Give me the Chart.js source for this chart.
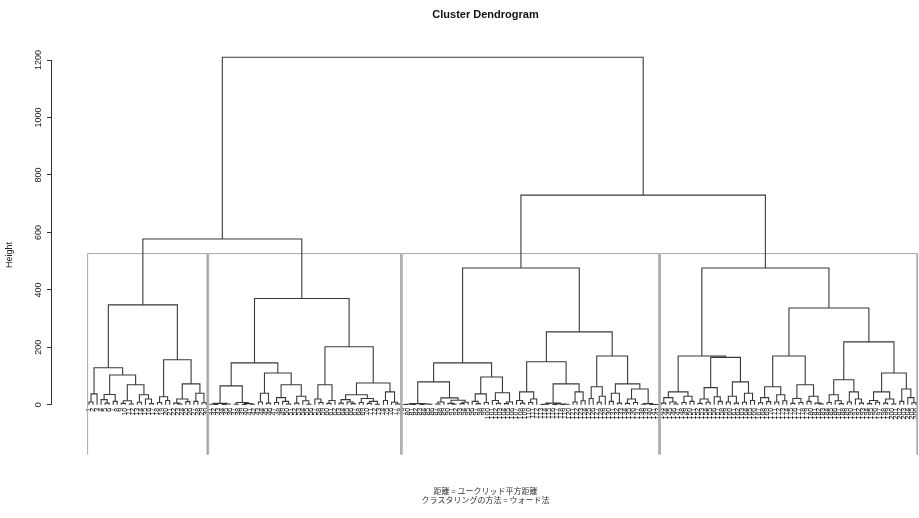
<!DOCTYPE html>
<html>
<head>
<meta charset="utf-8">
<script src="https://cdn.jsdelivr.net/npm/chart.js@4.4.1/dist/chart.umd.min.js"></script>
<style>
  html, body { margin: 0; padding: 0; background: #fff; }
  #wrap { width: 919px; height: 518px; }
</style>
</head>
<body>
<div id="wrap"><canvas id="dendro"></canvas></div>
<script>
// each node is [merge height, left, right]; 0 is a leaf
const cluster1 = [348,
  [129,
    [38, [10,0,0], 0],
    [104,
      [36, [18,0,[6,0,0]], [12,0,0]],
      [70, [14,[5,0,0],[3,0,0]], [35,[9,0,0],[20,0,[4,0,0]]]]
    ]
  ],
  [157,
    [28, [8,0,0], [15,0,0]],
    [73,
      [20, [6,0,[3,0,0]], [11,0,0]],
      [40, [12,0,0], [7,0,0]]
    ]
  ]
];

const cluster2 = [370,
  [146,
    [66,
      [5, [2,0,[1,0,0]], [3,[1,0,0],0]],
      [8, [2,0,0], [4,[1,0,0],[2,0,0]]]
    ],
    [111,
      [40, [10,0,0], [6,0,0]],
      [70, [25,[8,0,0],[12,0,[3,0,0]]], [30,[6,0,0],[14,0,[2,0,0]]]]
    ]
  ],
  [202,
    [70, [20,0,[8,0,0]], [15,[5,0,0],0]],
    [76,
      [35, [18,[6,0,0],[10,0,[4,0,0]]], [22,[8,0,0],[12,[5,0,0],[2,0,0]]]],
      [45, [15,0,0], [9,0,[3,0,0]]]
    ]
  ]
];

const cluster3 = [476,
  [146,
    [80,
      [4, [2,[1,0,0],[1,0,0]], [3,[1,0,0],[2,0,0]]],
      [24, [10,[3,0,0],0], [16,[5,0,[2,0,0]],[9,[4,0,0],0]]]
    ],
    [97,
      [38, [12,0,[4,0,0]], [8,0,0]],
      [42, [15,0,[5,0,0]], [10,[4,0,0],0]]
    ]
  ],
  [254,
    [150,
      [45, [15,0,[6,0,0]], [20,[8,0,0],0]],
      [73,
        [6, [2,[1,0,0],0], [3,[1,0,0],[2,[1,0,0],0]]],
        [45, [10,0,0], [14,0,0]]
      ]
    ],
    [170,
      [63, [22,0,0], [30,[9,0,0],0]],
      [73,
        [40, [12,0,0], [6,0,0]],
        [55, [20,[5,0,0],[8,0,0]], [4,[2,0,0],[1,0,[1,0,0]]]]
      ]
    ]
  ]
];

const cluster4 = [476,
  [170,
    [45, [25,[6,0,0],[10,0,[3,0,0]]], [30,[8,0,0],[12,0,0]]],
    [165,
      [60, [20,[5,0,0],[9,0,0]], [28,0,[12,0,0]]],
      [80, [30,[10,0,0],[6,0,0]], [40,[9,0,0],[15,0,0]]]
    ]
  ],
  [337,
    [170,
      [63, [25,[7,0,0],[11,0,0]], [35,[10,0,0],[14,0,0]]],
      [70, [22,[5,0,0],[8,0,0]], [30,[12,0,0],[6,0,[3,0,0]]]]
    ],
    [219,
      [87, [35,[8,0,0],[14,0,[4,0,0]]], [45,[10,0,0],[20,0,[6,0,0]]]],
      [111,
        [45, [15,[4,0,0],[9,0,0]], [20,[6,0,0],[3,0,0]]],
        [55, [12,0,0], [25,0,[7,0,0]]]
      ]
    ]
  ]
];

// left pair, right pair, root
const upperHeights = [577, 730, 1210];
const yTicks = [0, 200, 400, 600, 800, 1000, 1200];
const titleText = "Cluster Dendrogram";
const subText = ["距離 = ユークリッド平方距離", "クラスタリングの方法 = ウォード法"];

const clusters = [cluster1, cluster2, cluster3, cluster4];
const root = [upperHeights[2], [upperHeights[0], cluster1, cluster2], [upperHeights[1], cluster3, cluster4]];

const leafTicks = [];
const treeSegs = [];
const allHeights = [];
let leafNo = 0;

function walk(node) {
    if (node === 0) {
        leafNo++;
        leafTicks.push({ value: leafNo });
        return { x: leafNo, h: 0 };
    }
    const l = walk(node[1]);
    const r = walk(node[2]);
    const h = node[0];
    allHeights.push(h);
    treeSegs.push({x: l.x, y: l.h}, {x: l.x, y: h}, {x: r.x, y: h}, {x: r.x, y: r.h}, {x: r.x, y: null});
    return { x: (l.x + r.x) / 2, h: h };
}

function countLeaves(node) {
    if (node === 0) return 1;
    return countLeaves(node[1]) + countLeaves(node[2]);
}

walk(root);

// rect.hclust style boxes, cut between the k-1 and k highest merges
const yMin = -174, yMax = 1217;
const sorted = allHeights.slice().sort((a, b) => b - a);
const k = clusters.length;
const cutH = (sorted[k - 2] + sorted[k - 1]) / 2;
const boxSegs = [];
let start = 1;
clusters.forEach(c => {
    const n = countLeaves(c);
    const x0 = start - 0.34, x1 = start + n - 1 + 0.33;
    boxSegs.push({x: x0, y: yMin}, {x: x0, y: cutH}, {x: x1, y: cutH}, {x: x1, y: yMin}, {x: x1, y: null});
    start += n;
});

const axisLine = {
    id: 'axisLine',
    afterDraw(chart) {
        const s = chart.scales.y;
        const ctx = chart.ctx;
        ctx.save();
        ctx.strokeStyle = '#333';
        ctx.lineWidth = 1;
        ctx.beginPath();
        ctx.moveTo(s.right - 0.5, s.getPixelForValue(yTicks[0]));
        ctx.lineTo(s.right - 0.5, s.getPixelForValue(yTicks[yTicks.length - 1]));
        ctx.stroke();
        ctx.restore();
    }
};

const font = "'Liberation Sans', Arial, sans-serif";

new Chart(document.getElementById('dendro'), {
    type: 'scatter',
    data: {
        datasets: [
            {
                data: treeSegs,
                showLine: true,
                spanGaps: false,
                borderColor: '#383838',
                borderWidth: 1.1,
                pointRadius: 0,
                order: 1
            },
            {
                data: boxSegs,
                showLine: true,
                spanGaps: false,
                borderColor: '#a8a8a8',
                borderWidth: 1,
                pointRadius: 0,
                order: 2
            }
        ]
    },
    options: {
        responsive: true,
        maintainAspectRatio: false,
        animation: false,
        layout: { padding: 0 },
        plugins: {
            legend: { display: false },
            tooltip: { enabled: false },
            title: {
                display: true,
                text: titleText,
                fullSize: false,
                color: '#111',
                font: { family: font, size: 11, weight: 'bold' },
                padding: { top: 8, bottom: 34 }
            },
            subtitle: {
                display: true,
                text: subText,
                position: 'bottom',
                fullSize: false,
                color: '#333',
                font: { family: "'Noto Sans CJK JP', sans-serif", size: 8 },
                padding: { top: 31, bottom: 13 }
            }
        },
        scales: {
            x: {
                type: 'linear',
                min: -8.17,
                max: 206.77,
                position: { y: 0 },
                grid: { display: false, drawTicks: false },
                border: { display: false },
                afterBuildTicks: s => { s.ticks = leafTicks.slice(); },
                afterFit: s => { s.paddingLeft = 0; s.paddingRight = 0; },
                ticks: {
                    autoSkip: false,
                    minRotation: 90,
                    maxRotation: 90,
                    padding: 3,
                    color: '#111',
                    font: { family: font, size: 7 },
                    callback: v => String(v)
                }
            },
            y: {
                type: 'linear',
                min: yMin,
                max: yMax,
                position: 'left',
                afterFit: s => { s.width = 52; },
                afterBuildTicks: s => { s.ticks = yTicks.map(v => ({ value: v })); },
                grid: { drawOnChartArea: false, drawTicks: true, tickLength: 5, color: '#333' },
                border: { display: false },
                ticks: {
                    minRotation: 90,
                    maxRotation: 90,
                    crossAlign: 'center',
                    padding: -2,
                    color: '#222',
                    font: { family: font, size: 9 },
                    callback: v => String(v)
                },
                title: {
                    display: true,
                    text: 'Height',
                    color: '#222',
                    font: { family: font, size: 9 },
                    padding: { top: 4, bottom: 0 }
                }
            }
        }
    },
    plugins: [axisLine]
});
</script>
</body>
</html>
